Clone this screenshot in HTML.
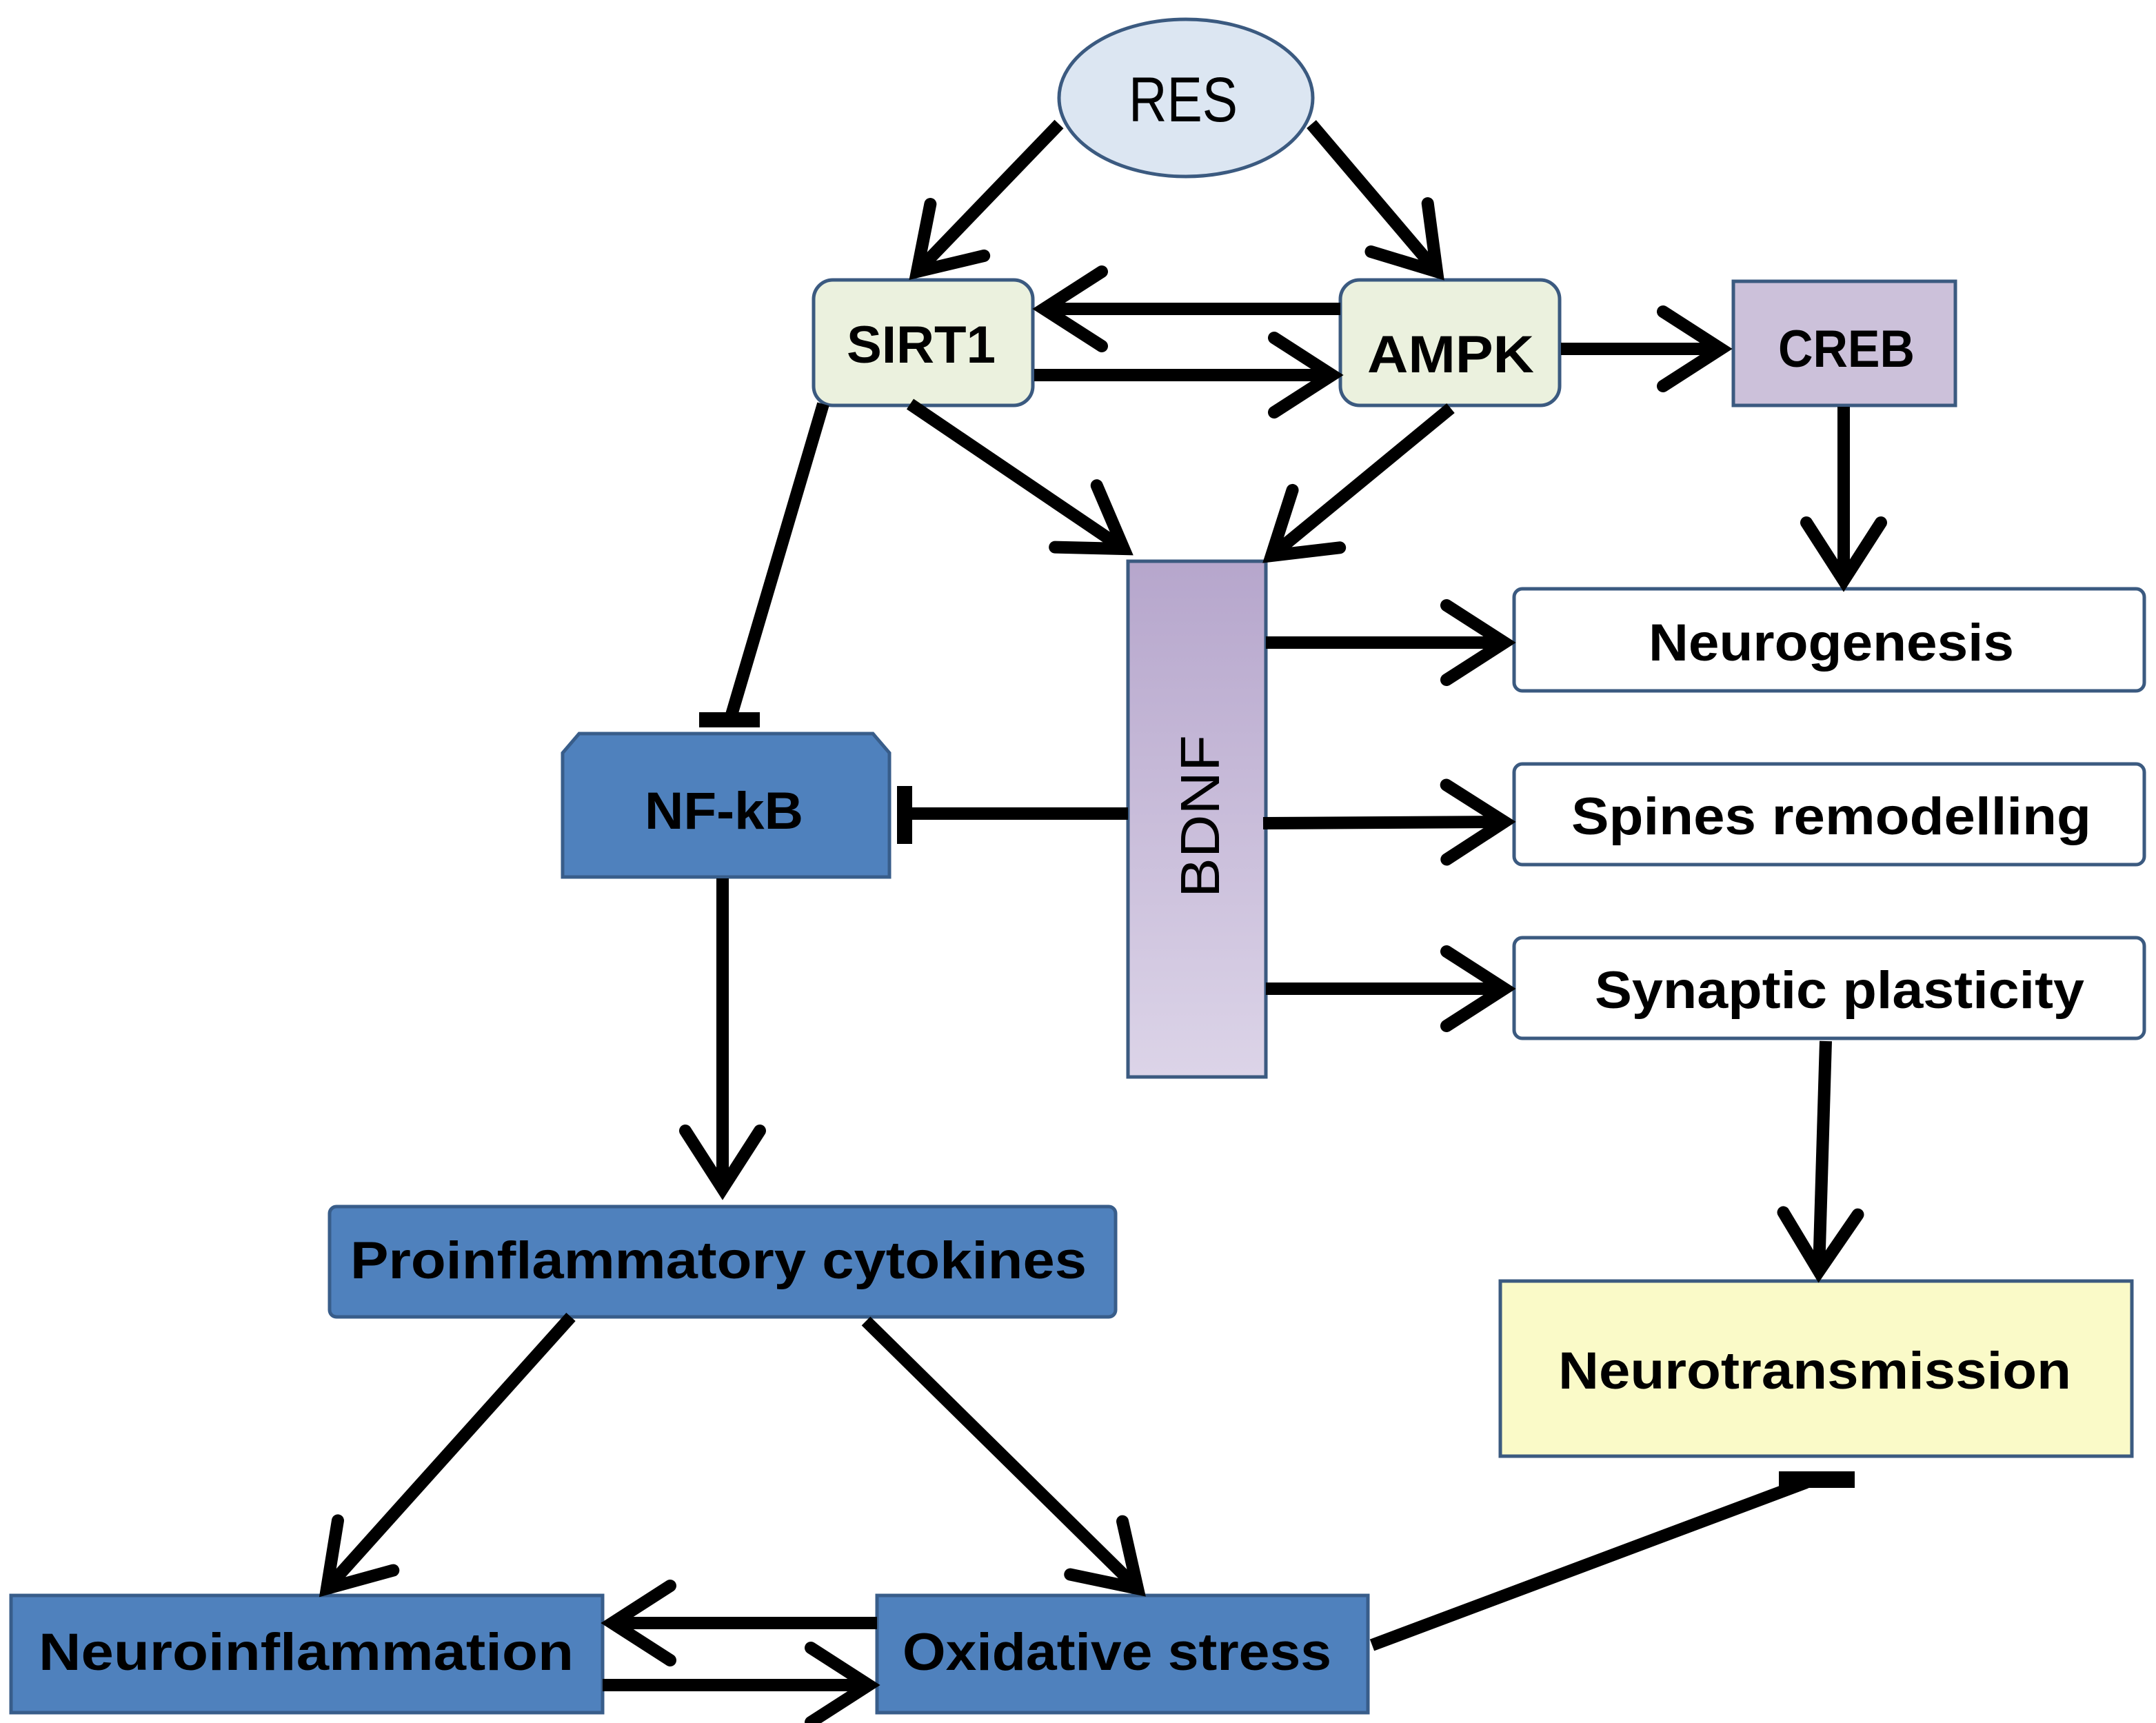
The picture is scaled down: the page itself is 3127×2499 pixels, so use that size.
<!DOCTYPE html>
<html><head><meta charset="utf-8"><style>html,body{margin:0;padding:0;background:#fff}svg{display:block}</style></head>
<body>
<svg width="3127" height="2499" viewBox="0 0 1563.5 1249.5" xmlns="http://www.w3.org/2000/svg" font-family="Liberation Sans, sans-serif">
<defs>
<marker id="ah" markerUnits="userSpaceOnUse" markerWidth="100" markerHeight="100" refX="0" refY="0" viewBox="-60 -50 80 100" orient="auto">
<path d="M-42,-27 L0,0 L-42,27" fill="none" stroke="#000" stroke-width="9" stroke-linecap="round" stroke-linejoin="miter"/>
</marker>
<linearGradient id="bd" x1="0" y1="0" x2="0" y2="1"><stop offset="0" stop-color="#b6a6cc"/><stop offset="1" stop-color="#dcd4e8"/></linearGradient>
</defs>
<rect width="1563.5" height="1249.5" fill="#fff"/>

<ellipse cx="860" cy="71" rx="92" ry="57" fill="#dce6f2" stroke="#3b5a80" stroke-width="2.5"/>
<text x="858" y="88" font-size="46" text-anchor="middle" textLength="79" lengthAdjust="spacingAndGlyphs">RES</text>

<rect x="590" y="203" width="159" height="91" rx="14" fill="#ebf1de" stroke="#3b5a80" stroke-width="2.5"/>
<text x="668" y="263" font-size="38" font-weight="bold" text-anchor="middle" textLength="108" lengthAdjust="spacingAndGlyphs">SIRT1</text>
<rect x="972" y="203" width="159" height="91" rx="14" fill="#ebf1de" stroke="#3b5a80" stroke-width="2.5"/>
<text x="1052" y="270" font-size="38" font-weight="bold" text-anchor="middle" textLength="121" lengthAdjust="spacingAndGlyphs">AMPK</text>
<rect x="1257" y="204" width="161" height="90" fill="#ccc1da" stroke="#3b5a80" stroke-width="2.5"/>
<text x="1339" y="266" font-size="38" font-weight="bold" text-anchor="middle" textLength="99" lengthAdjust="spacingAndGlyphs">CREB</text>

<rect x="818" y="407" width="100" height="374" fill="url(#bd)" stroke="#3b5a80" stroke-width="2.5"/>
<text transform="translate(884,592) rotate(-90)" font-size="40" text-anchor="middle" textLength="118" lengthAdjust="spacingAndGlyphs">BDNF</text>

<rect x="1098" y="427" width="457" height="74" rx="6" fill="#fff" stroke="#3b5a80" stroke-width="2.5"/>
<text x="1328" y="479" font-size="38" font-weight="bold" text-anchor="middle" textLength="265" lengthAdjust="spacingAndGlyphs">Neurogenesis</text>
<rect x="1098" y="554" width="457" height="73" rx="6" fill="#fff" stroke="#3b5a80" stroke-width="2.5"/>
<text x="1328" y="605" font-size="38" font-weight="bold" text-anchor="middle" textLength="377" lengthAdjust="spacingAndGlyphs">Spines remodelling</text>
<rect x="1098" y="680" width="457" height="73" rx="6" fill="#fff" stroke="#3b5a80" stroke-width="2.5"/>
<text x="1334" y="731" font-size="38" font-weight="bold" text-anchor="middle" textLength="355" lengthAdjust="spacingAndGlyphs">Synaptic plasticity</text>

<polygon points="420,532 633,532 645,546 645,636 408,636 408,546" fill="#4f81bd" stroke="#385d8a" stroke-width="2.5"/>
<text x="525" y="601" font-size="38" font-weight="bold" text-anchor="middle" textLength="115" lengthAdjust="spacingAndGlyphs">NF-kB</text>

<rect x="239" y="875" width="570" height="80" rx="5" fill="#4f81bd" stroke="#385d8a" stroke-width="2.5"/>
<text x="521" y="927" font-size="38" font-weight="bold" text-anchor="middle" textLength="534" lengthAdjust="spacingAndGlyphs">Proinflammatory cytokines</text>

<rect x="1088" y="929" width="458" height="127" fill="#fafac8" stroke="#3b5a80" stroke-width="2.5"/>
<text x="1316" y="1007" font-size="38" font-weight="bold" text-anchor="middle" textLength="372" lengthAdjust="spacingAndGlyphs">Neurotransmission</text>

<rect x="8" y="1157" width="429" height="85" fill="#4f81bd" stroke="#385d8a" stroke-width="2.5"/>
<text x="222" y="1211" font-size="38" font-weight="bold" text-anchor="middle" textLength="388" lengthAdjust="spacingAndGlyphs">Neuroinflammation</text>
<rect x="636" y="1157" width="356" height="85" fill="#4f81bd" stroke="#385d8a" stroke-width="2.5"/>
<text x="810" y="1211" font-size="38" font-weight="bold" text-anchor="middle" textLength="311" lengthAdjust="spacingAndGlyphs">Oxidative stress</text>

<g stroke="#000" stroke-width="9" fill="none" marker-end="url(#ah)">
<line x1="768" y1="90" x2="665" y2="197"/>
<line x1="951" y1="90" x2="1042" y2="197"/>
<line x1="972" y1="224" x2="757" y2="224"/>
<line x1="750" y1="272" x2="966" y2="272"/>
<line x1="1132" y1="253" x2="1248" y2="253"/>
<line x1="660" y1="293" x2="815" y2="398"/>
<line x1="1052" y1="296" x2="922" y2="403"/>
<line x1="1337" y1="295" x2="1337" y2="421"/>
<line x1="918" y1="466" x2="1091" y2="466"/>
<line x1="916" y1="597" x2="1091" y2="596"/>
<line x1="918" y1="717" x2="1091" y2="717"/>
<line x1="1324" y1="755" x2="1319" y2="922"/>
<line x1="524" y1="637" x2="524" y2="862"/>
<line x1="414" y1="955" x2="237" y2="1152"/>
<line x1="628" y1="958" x2="825" y2="1152"/>
<line x1="636" y1="1177" x2="444" y2="1177"/>
<line x1="437" y1="1222" x2="630" y2="1222"/>
</g>
<g stroke="#000" stroke-width="9" fill="none">
<line x1="597" y1="293" x2="530" y2="520"/>
<line x1="507" y1="522" x2="551" y2="522" stroke-width="11"/>
<line x1="818" y1="590" x2="656" y2="590"/>
<line x1="656" y1="570" x2="656" y2="612" stroke-width="11"/>
<line x1="995" y1="1193" x2="1310" y2="1075"/>
<line x1="1290" y1="1073" x2="1345" y2="1073" stroke-width="12"/>
</g>
</svg>
</body></html>
